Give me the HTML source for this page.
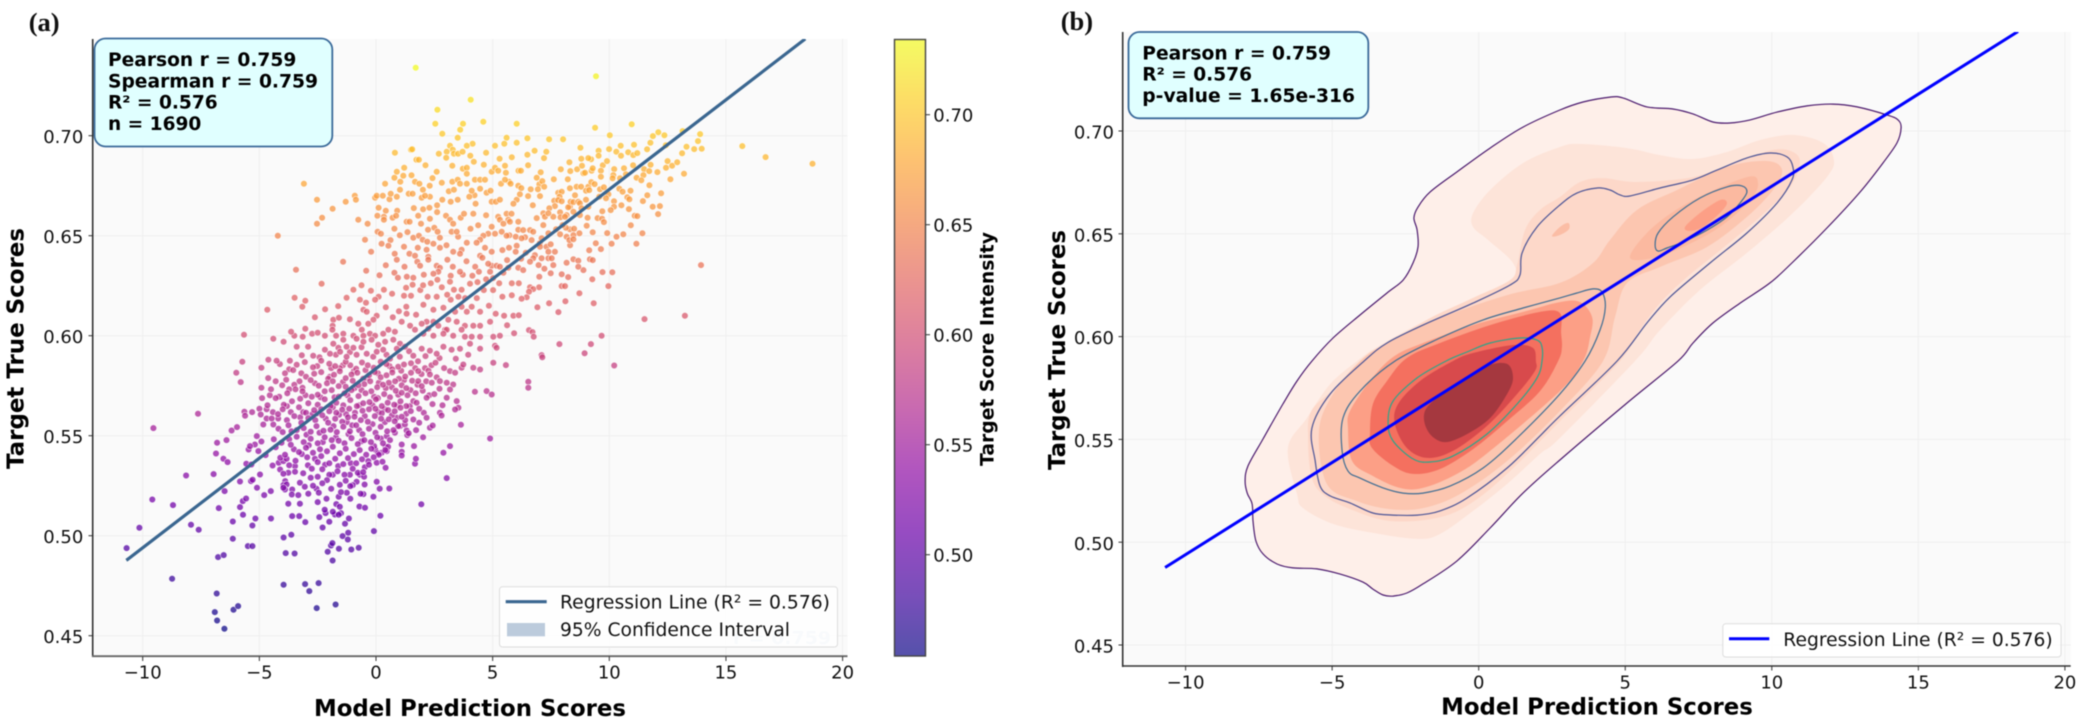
<!DOCTYPE html>
<html lang="en">
<head>
<meta charset="utf-8">
<title>Model prediction scores vs target true scores</title>
<style>
html,body{margin:0;padding:0;background:#fff;}
svg{display:block;font-family:"DejaVu Sans","Liberation Sans",sans-serif;filter:blur(0.4px);}
.tick{font-size:18px;fill:#111;}
.axt{font-weight:bold;fill:#000;}
.stat{font-weight:bold;font-size:18.2px;fill:#000;}
.leg{font-size:18.3px;fill:#111;}
.pl{font-family:"Liberation Serif",serif;font-weight:bold;font-size:26.5px;fill:#111;}
</style>
</head>
<body>
<svg id="chart" xmlns="http://www.w3.org/2000/svg" width="2082" height="722" viewBox="0 0 2082 722">
<defs>
<clipPath id="clipA"><rect x="93" y="39" width="755" height="618"/></clipPath>
<clipPath id="clipB"><rect x="1123" y="32" width="948" height="634"/></clipPath>
<linearGradient id="plasmaGrad" x1="0" y1="1" x2="0" y2="0"></linearGradient>
</defs>
<rect x="0" y="0" width="2082" height="722" fill="#ffffff"/>
<text class="pl" x="28.7" y="31">(a)</text>
<text class="pl" x="1060.7" y="30">(b)</text>

<g id="panelA">
<rect x="93" y="39" width="754.5" height="617.5" fill="#fafafa"/>
<g id="gridA"></g>
<text x="733" y="644" font-weight="bold" font-size="18" fill="#d9e3ec" textLength="98" lengthAdjust="spacingAndGlyphs">r = 0.759</text>
<g id="dotsA"></g>
<g id="regA" clip-path="url(#clipA)"></g>
<line x1="92.7" y1="39" x2="92.7" y2="657" stroke="#333" stroke-width="1.6"/>
<line x1="92" y1="656.2" x2="847.5" y2="656.2" stroke="#666" stroke-width="1.8"/>
<g id="ticksA"></g>
<text class="axt" font-size="23.5" text-anchor="middle" x="470" y="716" textLength="312" lengthAdjust="spacingAndGlyphs">Model Prediction Scores</text>
<text class="axt" font-size="23.5" text-anchor="middle" transform="translate(23.5,348.5) rotate(-90)" textLength="241" lengthAdjust="spacingAndGlyphs">Target True Scores</text>
<g>
<rect x="94.5" y="38.5" width="237.8" height="108" rx="11" ry="11" fill="#e0ffff" stroke="#3a6a9a" stroke-width="1.8"/>
<text class="stat" x="108" y="66" textLength="188.3" lengthAdjust="spacingAndGlyphs">Pearson r = 0.759</text>
<text class="stat" x="108" y="87.3" textLength="210" lengthAdjust="spacingAndGlyphs">Spearman r = 0.759</text>
<text class="stat" x="108" y="108.7" textLength="109.7" lengthAdjust="spacingAndGlyphs">R² = 0.576</text>
<text class="stat" x="108" y="130" textLength="93.3" lengthAdjust="spacingAndGlyphs">n = 1690</text>
</g>
<g>
<rect x="499.5" y="586.8" width="338" height="60.2" rx="3" ry="3" fill="#ffffff" fill-opacity="0.82" stroke="#dddddd" stroke-width="1"/>
<line x1="505.7" y1="601.7" x2="546.7" y2="601.7" stroke="#3a6690" stroke-width="3.2"/>
<text class="leg" x="560" y="608.3" textLength="270" lengthAdjust="spacingAndGlyphs">Regression Line (R² = 0.576)</text>
<rect x="507" y="623" width="38" height="13.3" fill="#bccbdc"/>
<text class="leg" x="560" y="636" textLength="230" lengthAdjust="spacingAndGlyphs">95% Confidence Interval</text>
</g>
</g>

<g id="colorbar">
<rect x="894.5" y="39.5" width="31" height="616.5" fill="url(#plasmaGrad)" fill-opacity="0.7" stroke="#444" stroke-width="1.4"/>
<g id="ticksC"></g>
<text class="axt" font-size="18.3" text-anchor="middle" transform="translate(993.3,349) rotate(-90)" textLength="234" lengthAdjust="spacingAndGlyphs">Target Score Intensity</text>
</g>

<g id="panelB">
<rect x="1123" y="32" width="947.7" height="634" fill="#fafafa"/>
<g id="gridB"></g>
<g id="kdeFills" clip-path="url(#clipB)"></g>
<g id="kdeLines" clip-path="url(#clipB)"></g>
<g id="regB" clip-path="url(#clipB)"></g>
<line x1="1122.7" y1="32" x2="1122.7" y2="667" stroke="#333" stroke-width="1.6"/>
<line x1="1122" y1="666" x2="2070.7" y2="666" stroke="#333" stroke-width="1.6"/>
<g id="ticksB"></g>
<text class="axt" font-size="23.5" text-anchor="middle" x="1597" y="714.3" textLength="311.7" lengthAdjust="spacingAndGlyphs">Model Prediction Scores</text>
<text class="axt" font-size="23.5" text-anchor="middle" transform="translate(1065,350) rotate(-90)" textLength="240" lengthAdjust="spacingAndGlyphs">Target True Scores</text>
<g>
<rect x="1128.5" y="32" width="239.8" height="86.3" rx="11" ry="11" fill="#e0ffff" stroke="#3a6a9a" stroke-width="1.8"/>
<text class="stat" x="1142.3" y="59.3" textLength="188.7" lengthAdjust="spacingAndGlyphs">Pearson r = 0.759</text>
<text class="stat" x="1142.3" y="80.7" textLength="109.7" lengthAdjust="spacingAndGlyphs">R² = 0.576</text>
<text class="stat" x="1142.3" y="102" textLength="212.7" lengthAdjust="spacingAndGlyphs">p-value = 1.65e-316</text>
</g>
<g>
<rect x="1722.8" y="623.8" width="338.2" height="33.2" rx="3" ry="3" fill="#ffffff" fill-opacity="0.85" stroke="#dddddd" stroke-width="1"/>
<line x1="1729" y1="638.7" x2="1769.3" y2="638.7" stroke="#0000ff" stroke-width="3"/>
<text class="leg" x="1783.3" y="646" textLength="269.4" lengthAdjust="spacingAndGlyphs">Regression Line (R² = 0.576)</text>
</g>
</g>
</svg>

<script>
/* ---------- shared tick data ---------- */
const xTickValues = [-10, -5, 0, 5, 10, 15, 20];
const xTickLabels = ["\u221210", "\u22125", "0", "5", "10", "15", "20"];
const yTickValues = [0.45, 0.50, 0.55, 0.60, 0.65, 0.70];
const yTickLabels = ["0.45", "0.50", "0.55", "0.60", "0.65", "0.70"];
const colorbarTickValues = [0.50, 0.55, 0.60, 0.65, 0.70];
const colorbarTickLabels = ["0.50", "0.55", "0.60", "0.65", "0.70"];
const colorRange = [0.454, 0.734];
const plasmaColors = ["#0d0887","#41049d","#6a00a8","#8f0da4","#b12a90","#cc4778","#e16462","#f1844b","#fca636","#fcce25","#f0f921"];

/* ---------- regression ---------- */
const regressionX = [-10.7, 18.4];
const regressionY = [0.4877, 0.7484];
const ciLowerY = [0.4870, 0.7477];
const ciUpperY = [0.4884, 0.7491];

/* ---------- scatter samples [prediction, true score] ---------- */
const highScorePoints = [
[1.7,.734],[4.06,.718],[2.63,.713],[2.54,.706],[3.73,.706],[3.61,.703],[4.6,.707],[6.03,.706],[2.84,.701],[3.5,.699],[5.6,.699],[5.5,.696],[6.03,.6965],[5.1,.695],[3.17,.695],[4.14,.696],[3.89,.695],[1.5,.693],[1.55,.6932],[.81,.6915],[3.29,.693],[3.03,.692],[2.69,.691],[3.34,.691],[3.52,.691],[3.71,.692],[4.04,.690],[3.01,.689],[1.73,.688],[1.84,.688],[4.19,.687],[5.3,.6885],
[-3.09,.676],[-2.53,.668],[-1.86,.6635],[-1.3,.667],[-.91,.670],[-.86,.668],[-2.31,.659],[-2.53,.656],[-.76,.658],[-4.21,.65],[-.36,.656],[-.47,.648],[-.21,.642],[-1.41,.637],[.24,.646],[.53,.645],[.07,.652],[.21,.651],[.11,.664],[.06,.660],[-.04,.669],[.03,.670],[.29,.670],[.63,.671],[.89,.6695],[1.03,.673],[.39,.676],[.79,.679],[.89,.682],[1.17,.680],[1.21,.684],[1.04,.677],[1.4,.671],[1.57,.671],[1.67,.677],[1.86,.676],[2.01,.673],[2.3,.675],[1.96,.669],[2.31,.6695],[2.1,.670],[2.84,.668],[2.29,.664],[1.81,.660],[2.31,.6585],[1.93,.656],[.91,.6625],[.71,.659],[.86,.660],[.34,.6595],[.34,.658],[.79,.6535],[1.31,.657],[1.44,.657],[1.6,.649],[1.84,.650],[2.23,.653],[2.5,.654],[2.64,.652],[2.74,.649],[2.0,.648],[2.2,.647],[2.46,.646],[1.2,.6445],[1.79,.644],[2.17,.643],[2.74,.644],[.8,.641],[1.43,.641],[.89,.638],[1.67,.640],[1.77,.637],[2.24,.6395],[1.89,.635],[2.24,.638],
[3.0,.660],[3.17,.658],[3.31,.656],[3.24,.652],[3.46,.652],[3.63,.659],[3.77,.661],[4.17,.661],[3.2,.667],[3.5,.668],[3.34,.673],[3.27,.677],[3.5,.678],[3.6,.676],[3.89,.676],[4.0,.6695],[4.1,.6725],[4.24,.678],[4.46,.678],[4.67,.678],[4.46,.6735],[4.74,.6715],[4.91,.6725],[4.27,.666],[3.89,.684],[3.89,.681],[3.27,.685],[2.6,.682],[4.96,.682],[5.1,.684],[5.24,.6825],[5.53,.685],[5.57,.6815],[5.7,.677],[5.36,.676],[5.53,.678],[5.77,.676],[6.1,.675],[6.11,.6825],[6.03,.668],[5.89,.666],[4.96,.667],[5.14,.667],[5.31,.668],[5.6,.661],[5.81,.661],[5.24,.6595],[5.31,.658],[5.67,.658],[5.46,.656],[5.74,.657],[4.96,.6545],[6.1,.657],[6.1,.653],[5.39,.652],[5.1,.651],[4.81,.651],[4.6,.650],[5.6,.650],[5.99,.6495],[4.46,.648],[4.31,.6465],[3.89,.6465],[6.03,.645],[5.7,.644],[5.99,.642],[4.67,.644],[4.96,.642],[4.46,.640],[4.56,.639],[4.96,.635],[5.17,.635],[4.81,.636],[5.31,.6345],[6.1,.634],[5.67,.634],[5.46,.6315],[4.41,.632],[4.13,.630],[3.6,.632],[3.2,.630],[3.29,.6345],[3.06,.638],[3.31,.642],[3.67,.643],[3.6,.641],[2.6,.635],[2.74,.634],[2.67,.632],[2.46,.631],[2.63,.628],[3.17,.627],[4.89,.632]
];
const rightSidePoints = [
[9.43,.7297],[9.39,.704],[10.96,.7057],[6.49,.6987],[12.1,.7017],[11.87,.6998],[12.36,.7002],[13.14,.7023],[13.89,.7008],[13.8,.6973],[13.31,.6945],[13.64,.6933],[13.96,.6935],[11.76,.6965],[15.7,.6948],[16.7,.6893],[18.71,.686],[8.76,.694],[10.49,.695],[11.06,.6955],[9.99,.6933],[9.54,.6925],[9.54,.690],[10.3,.692],[10.5,.690],[10.81,.6917],[11.03,.6903],[11.2,.6913],[8.8,.6885],[9.1,.6888],[8.83,.685],[8.29,.6867],[9.9,.6873],[10.21,.6833],[10.63,.6837],[8.33,.6823],[8.89,.6812],[8.96,.6815],[9.24,.6825],[9.29,.6837],[9.64,.6825],[9.64,.6795],[10.17,.6803],[10.14,.6787],[10.46,.6787],[10.71,.6807],[11.49,.6833],[11.46,.6803],[11.71,.6823],[11.77,.6855],[12.06,.6818],[11.17,.679],[11.37,.6777],[12.43,.684],[12.5,.6873],[12.69,.685],[12.91,.6867],[13.2,.681],[6.8,.6925],[7.3,.692],[7.2,.6888],[6.49,.6905],[6.21,.6825],[7.06,.6817],[6.89,.679],[7.0,.6757],[7.13,.6773],[7.21,.6745],[6.94,.6732],[6.63,.6732],[7.03,.6698],[6.23,.6738],[6.17,.6707],[8.31,.6737],[8.6,.6745],[8.79,.6745],[9.1,.6745],[9.23,.6768],[9.37,.6758],[9.0,.6725],[9.14,.6728],[9.6,.6732],[9.77,.6742],[9.96,.6707],[9.86,.6687],[9.57,.6695],[10.43,.6735],[10.57,.672],[10.91,.6725],[10.77,.6692],[10.86,.6682],[10.2,.6672],[10.2,.6645],[10.06,.6628],[9.7,.6622],[10.84,.6633],[11.44,.6673],[11.63,.6702],[11.86,.6645],[12.17,.6648],[12.09,.6608],[11.09,.66],[11.2,.6598],[9.5,.6588],[9.69,.6585],[9.77,.6568],[9.03,.655],[9.29,.6517],[9.91,.6513],[10.31,.6495],[10.6,.6507],[10.1,.646],[11.16,.646],[9.14,.6427],[9.64,.6433],[13.93,.6353],[10.13,.6317],[9.71,.6318],[9.27,.6282],[9.96,.6248],[9.33,.6162],[11.51,.6083],[13.24,.61],[9.67,.6],[9.21,.5958],[8.94,.5912],[7.86,.5958],[7.1,.5903],[7.13,.5892],[6.56,.6028],[6.71,.6018],[6.76,.5995],[10.21,.5851],[6.53,.577],[6.53,.574],
[7.81,.6715],[7.96,.672],[7.87,.6695],[7.64,.6675],[7.81,.6678],[7.96,.6672],[7.67,.6648],[7.43,.6637],[7.6,.6595],[7.89,.6617],[7.91,.6592],[8.17,.6603],[8.31,.6645],[8.24,.6642],[8.34,.667],[8.53,.6702],[8.46,.6668],[8.67,.667],[8.74,.6662],[8.81,.6637],[9.0,.668],[9.1,.6645],[8.74,.6603],[8.46,.662],[8.1,.6595],[9.07,.659],[8.31,.6532],[8.49,.6535],[8.14,.654],[8.0,.6553],[7.89,.6507],[8.17,.6495],[8.46,.6503],[8.29,.6478],[8.46,.6482],
[6.31,.6528],[6.6,.6528],[6.74,.652],[6.67,.6478],[6.39,.6492],[6.24,.6487],[6.89,.6588],[7.17,.6612],[7.24,.6595],[7.39,.6612],[7.17,.6553],[7.39,.6512],[7.1,.6487],[7.31,.6445],[7.03,.6445],[6.81,.6403],[6.74,.6387],[7.39,.642],[7.49,.6457],[7.1,.6387],[6.6,.637],[6.97,.6353],[7.39,.6387],[7.67,.642],[7.53,.6387],[7.6,.6353],[7.49,.6312],[7.96,.6307],[8.24,.6293],[6.31,.6328],[7.0,.6295],[7.96,.6248],[8.1,.6248],[6.99,.6242],[6.6,.6242],[6.74,.6233],[6.56,.622],[6.46,.6192],[6.24,.6185],[8.46,.6382],[8.67,.6375],[9.17,.6382],[9.29,.6378],[8.89,.6328],[8.67,.6345],[8.17,.6365]
];
const midScorePoints = [
[-3.43,.633],[-2.33,.626],[-.97,.623],[-1.26,.619],[-3.49,.619],[-3.03,.6175],[-3.16,.6145],[-4.66,.613],[-.69,.618],[-.43,.6165],[-.54,.613],[-.4,.612],[.03,.61],[-.11,.608],[.11,.6195],[-.04,.618],[.34,.623],[.69,.621],[1.2,.62],[1.5,.62],[1.29,.624],[1.57,.6255],[1.6,.629],[.79,.6315],[.94,.629],[2.21,.6195],[2.6,.6195],[3.2,.618],[3.53,.6195],[3.34,.623],[3.67,.623],[4.03,.626],[2.03,.6155],[1.3,.6145],[1.31,.611],[2.46,.613],[2.89,.614],[3.67,.6145],[4.1,.6145],[3.39,.612],[3.89,.612],[4.46,.612],[4.84,.615],[5.13,.611],[5.49,.610],[4.89,.607],[4.46,.605],[5.89,.610],[3.1,.608],[3.46,.607],[3.81,.605],[4.17,.605],[2.17,.607],[2.46,.607],[2.67,.605],[2.96,.603],[3.03,.603],[3.67,.603],[-1.83,.608],[-1.59,.609],[-1.86,.605],[-1.87,.603],[-.76,.606],[-.33,.606],[-3.03,.6035],[-3.5,.600],[-2.74,.601],[-2.5,.6015],[-2.19,.600],[-1.71,.600],[-1.4,.601],[-3.64,.602],[-3.14,.5995],[-5.66,.6005],[-4.4,.5985],[-3.96,.597],
[-.61,.603],[-.54,.600],[-.26,.601],[-.04,.600],[.31,.601],[.53,.603],[.81,.602],[1.1,.607],[1.46,.605],[1.67,.603],[1.96,.606],[2.24,.6035],[2.03,.601],[2.46,.600],[2.89,.601],[3.31,.600],[3.81,.5995],[4.1,.5995],[4.46,.5995],[5.03,.5995],[5.31,.600],[-.97,.600],[-.83,.5985],[-1.4,.598],[-1.83,.596],[-1.26,.5945],[-1.61,.594],[-.97,.594],[-.54,.597],[-.19,.598],[.1,.5955],[.39,.597],[.74,.598],[1.03,.596],[-3.4,.5945],[-2.91,.5945],[-2.69,.59],[-2.19,.593],[-1.97,.591],[-1.54,.592],[-1.26,.5895],[-.83,.5905],[-.4,.591],[.03,.592],[.31,.593],[.6,.5885],[.89,.5935],[1.24,.5945],[1.6,.590],[1.96,.5935],[2.31,.5925],[2.6,.591],[2.89,.5945],[3.24,.593],[3.6,.5935],[4.03,.596],[4.46,.5935],[5.1,.595],[5.17,.594],[-5.73,.587],[-4.61,.588],[-4.26,.5875],[-3.69,.5875],
[1.6,.5673],[1.74,.5665],[1.49,.5623],[1.81,.5773],[1.96,.5748],[2.17,.569],[2.39,.5765],[2.74,.5773],[3.03,.5765],[3.31,.5756],[3.46,.5673],[3.53,.564],[3.39,.5631],[3.17,.5731],[3.03,.569],[4.24,.572],[4.74,.5723],[4.96,.5706],[3.67,.584],[4.17,.584],[4.46,.5831],[3.74,.5856],[5.03,.5865],[5.57,.5853],[3.17,.5823],[3.39,.5815],[2.31,.5806],[1.81,.5823],[2.31,.554],[2.43,.5551],[2.17,.559],[2.74,.5615],[2.81,.5601],[3.64,.5555],[4.89,.5486],[2.89,.5415],[3.17,.5448],[3.03,.5288],[1.94,.5157]
];
const denseCorePoints = [
[-3.4,.5855],[-2.7,.5842],[-2,.586],[-1.55,.5838],[-1.1,.5852],[-.6,.5866],[-.1,.584],[.45,.5858],[.95,.5845],[1.5,.5862],[2.1,.5838],[-3.05,.5868],[-2.35,.5875],[-1.75,.5848],[-1.3,.587],[-.85,.5835],[-.35,.5852],[.2,.587],[.7,.5832],[1.2,.5856],[1.8,.5872],[2.55,.5865],
[-3.9,.5812],[-3,.5795],[-2.35,.5818],[-1.8,.5805],[-1.3,.5788],[-.8,.5815],[-.3,.5802],[.2,.5792],[.7,.5816],[1.25,.5796],[1.95,.5808],[2.6,.5792],[-3.55,.5828],[-2.65,.581],[-2.05,.5785],[-1.55,.5822],[-1.05,.5806],[-.55,.5785],[-.05,.5818],[.45,.5802],[.98,.5785],[1.5,.5815],[2.25,.5825],
[-4.3,.5772],[-3.5,.5755],[-2.8,.5778],[-2.1,.5762],[-1.6,.5748],[-1,.5775],[-.5,.5758],[.05,.5742],[.55,.5765],[1.1,.5752],[1.55,.5775],[-3.85,.578],[-3.15,.574],[-2.45,.575],[-1.85,.5772],[-1.3,.5745],[-.75,.5752],[-.25,.5772],[.3,.5755],[.82,.5772],[1.3,.5738],
[-4.5,.5732],[-3.8,.5712],[-3.15,.5722],[-2.5,.5705],[-1.9,.5728],[-1.35,.5712],[-.75,.5698],[-.2,.5722],[.35,.5708],[.85,.5725],[1.35,.5702],[2,.5725],[2.5,.5708],[-4.15,.5695],[-3.45,.5732],[-2.75,.5695],[-2.2,.5722],[-1.6,.5695],[-1.05,.5728],[-.45,.5712],[.08,.5688],[.6,.5692],[1.1,.5715],[1.7,.5712],
[-4.3,.5688],[-3.6,.5672],[-2.9,.5662],[-2.2,.5682],[-1.7,.5665],[-1.1,.5678],[-.55,.5662],[0,.5682],[.5,.5665],[1.05,.5672],[-3.95,.5655],[-3.25,.5685],[-2.5,.5655],[-1.95,.5648],[-1.4,.5652],[-.82,.5648],[-.28,.5668],[.25,.5648],[.78,.5655],[1.3,.5648],
[-4.65,.5652],[-4,.5632],[-3.3,.5642],[-2.65,.5628],[-2,.5622],[-1.45,.563],[-.9,.5615],[-.3,.5632],[.25,.5612],[.8,.5622],[1.3,.561],[1.85,.5635],[-3.65,.5618],[-3,.5615],[-2.35,.5632],[-1.7,.5615],[-1.15,.5635],[-.58,.5625],[-.02,.5635],[.52,.5628],[1.05,.564],
[-4.2,.5608],[-3.5,.5598],[-2.9,.5588],[-2.3,.5602],[-1.75,.5585],[-1.2,.5592],[-.65,.5578],[-.05,.5598],[.55,.5582],[1.1,.5595],[-3.2,.5565],[-2.6,.5578],[-2.05,.5565],[-1.45,.557],[-.92,.5595],[-.35,.557],[.22,.5585],[.8,.5572],[-3.82,.5578],
[-3.75,.5552],[-3.1,.5538],[-2.55,.5548],[-1.95,.553],[-1.4,.5545],[-.85,.5552],[-.3,.5535],[.2,.5545],[.75,.5528],[1.4,.5512],[-3.4,.5528],[-2.8,.552],[-2.25,.5525],[-1.68,.5518],[-1.12,.5522],[-.58,.5508],[-.02,.5515],[.48,.5522],
[-4,.5518],[-3.4,.5495],[-2.8,.5485],[-2.2,.5492],[-1.6,.5475],[-1.05,.5488],[-.5,.5478],[.05,.5492],[.6,.5478],[-3.72,.5482],[-3.1,.5468],[-2.5,.5462],[-1.9,.5478],[-1.35,.5462],[-.78,.5458],[-.22,.5468],[.3,.5462],
[-3.65,.5455],[-3,.544],[-2.4,.5432],[-1.85,.5445],[-1.3,.5435],[-.7,.5428],[-.2,.5435],[.4,.5428],[-4.3,.5442],[-3.3,.5418],[-2.7,.5415],[-2.1,.5422],[-1.55,.5412],[-.95,.5408],[-.42,.5405],[.12,.5405],
[-3.9,.5405],[-2.95,.5392],[-2.35,.5398],[-1.75,.5385],[-1.2,.5388],[-.6,.5382],[-.1,.5392],[-3.45,.5375],[-2.5,.5368],[-2,.5362],[-1.4,.5358],[-.85,.5362],[-.3,.5355],[.28,.537],
[-2.75,.5335],[-1.65,.5322],[-1,.5335],[-.55,.5318],[-2.3,.5332],[-2,.5305],[-1.35,.5305],[-2.8,.529],[-2.1,.5278],[-1.3,.5275],[-2.7,.525],[-2.3,.5262],[-1.1,.5248],[-1.55,.5255],[-2.9,.521],[-2.45,.5215],[-1.6,.5195],[-1.5,.5218],[-2.5,.5168],[-1.7,.5158],[-1.55,.5145],[-1.1,.5185],[-2.2,.513],[-1.85,.512],[-1.6,.5105]
];
const lowScorePoints = [
[-7.63,.561],[-9.54,.5538],[-5.99,.5815],[-5.8,.5768],[-4.91,.584],[-4.91,.574],[-5.64,.562],[-5.31,.5618],[-5.61,.56],[-5.0,.5635],[-4.69,.5632],[-4.94,.5606],[-4.69,.5586],[-4.83,.5556],[-4.4,.5556],[-4.19,.5586],[-4.47,.5586],[-6.19,.5526],[-5.96,.5543],[-6.81,.5465],[-6.41,.5478],[-6.86,.5411],[-6.54,.5385],[-6.36,.5368],[-6.96,.5308],[-8.14,.5301],[-9.59,.5181],[-8.7,.5153],[-10.14,.504],[-10.69,.4938],[-7.93,.5055],[-7.6,.503],[-6.49,.5223],[-6.74,.5138],[-8.74,.4785],[-6.83,.4711],[-6.91,.4618],[-6.81,.4576],[-6.5,.4535],[-6.11,.463],[-5.91,.4648],[-6.77,.4893],[-6.53,.4903],[-6.14,.4985],[-6.14,.5071],[-5.49,.4948],[-5.3,.4948],[-5.3,.5051],[-5.17,.5086],[-4.5,.5086],[-5.7,.5105],[-5.83,.5143],[-5.71,.5173],[-5.57,.5186],[-5.1,.524],[-4.79,.5203],[-4.51,.5223],[-5.83,.5271],[-5.36,.5273],[-5.29,.528],[-4.97,.5306],[-5.46,.5431],[-5.19,.5456],[-5.11,.5498],[-4.91,.5471],[-5.4,.5448],[-5.04,.5423],[-5.56,.536],[-5.34,.5356],[-4.73,.5403],[-4.43,.5351],[-4.17,.5365],[-3.97,.5373],[-4.1,.539],[-3.83,.5385],[-3.47,.5348],[-3.47,.532],[-3.76,.5315],[-4.11,.5331],[-3.97,.531],[-3.89,.5273],[-3.97,.5253],[-3.83,.5256],[-3.9,.5231],[-3.59,.5231],[-3.26,.5265],[-3.61,.5206],[-3.33,.5203],[-3.76,.516],[-3.26,.516],[-3.97,.524],[-3.59,.5098],[-3.29,.5098],[-3.03,.5068],[-3.96,.4991],[-3.63,.5005],[-3.87,.4913],[-3.49,.4911],[-3.96,.4755],[-3.04,.4758],[-2.86,.4723],[-2.46,.4763],[-2.54,.4638],[-1.73,.4656],[-2.07,.492],[-1.93,.4951],[-1.87,.4963],[-1.59,.4935],[-1.43,.4998],[-1.19,.5015],[-1.21,.4981],[-1.06,.4931],[-.74,.494],[-1.86,.4876],[-2.29,.5041],[-2.0,.507],[-2.43,.5093],[-2.16,.5113],[-1.76,.5106],[-1.5,.5113],[-1.33,.506],[-1.16,.5086],[-.09,.5023],[.19,.51],[-.11,.5195],[.16,.5235],[.57,.5236],[-.71,.5146],[-.47,.514],[-.54,.5208],[-.66,.521],[-.83,.527],[-.69,.5305],[-.51,.5295],[-.49,.5256],[-1.0,.5253],[.03,.527],[.41,.534],[.03,.5365],[-.33,.5373],[1.67,.536],[1.71,.5385],[1.63,.5448],[1.1,.5456],[1.1,.542],[1.1,.5401],[.41,.5443],[.46,.5423],[.24,.5415],[-.04,.5431],[.21,.5486],[.46,.5498],[.81,.5515],[1.34,.5503],[1.03,.5548],[1.24,.5556],[1.31,.5526],[.89,.559],[1.6,.5581]
];
const interstitialCorePoints = [
[-4.05,.5465],[-3.52,.5432],[-2.88,.5452],[-2.28,.5468],[-1.72,.5492],[-1.18,.5508],[-.62,.5472],[-.08,.5448],[.52,.5445],[-3.18,.5408],[-2.62,.5385],[-2.18,.5355],[-1.62,.5348],[-1.08,.5362],[-.48,.5342],[.08,.5412],[-3.72,.5352],[-2.92,.5352],[-2.5,.5295],[-1.85,.5305],[-1.12,.5305],[-.78,.5315],[-2.55,.5235],[-1.92,.5235],[-1.25,.5215],[-2.12,.5185],[-3.05,.5245],[-3.12,.5312],
[-3.62,.5522],[-2.98,.5505],[-2.42,.5515],[-1.82,.5548],[-1.25,.5568],[-.72,.5528],[-.15,.5558],[.38,.5568],[.95,.5548],[-4.18,.5535],[-4.38,.5482],[-3.25,.5592],[-2.72,.5608],[-2.15,.5585],[-1.58,.5605],[-1.02,.5552],[-.48,.5598],[.1,.5618],[.68,.5602],[1.25,.5578],[1.72,.5528],[2.02,.5492],[1.85,.5565],
[-4.42,.5618],[-3.82,.5648],[-3.12,.5618],[-2.52,.5612],[-1.85,.5642],[-1.28,.5608],[-.72,.5652],[-.15,.5652],[.38,.5632],[.92,.5652],[1.45,.5648],[2.05,.5615],[2.42,.5658],[-4.88,.5688],[-4.55,.5702],[-3.72,.5732],[-3.02,.5702],[-2.38,.5692],[-1.78,.5692],[-1.22,.5702],[-.62,.5728],[-.08,.5695],[.42,.5738],[.95,.5705],[1.48,.5728],[2.28,.5702],[2.85,.5652],
[-4.02,.5752],[-3.28,.5772],[-2.62,.5762],[-1.98,.5795],[-1.42,.5768],[-.92,.5738],[-.38,.5788],[.12,.5765],[.68,.5742],[1.2,.5778],[1.78,.5755],[2.15,.5772],[2.72,.5735],[-4.62,.5788],[-3.72,.5832],[-3.2,.5812],[-2.52,.5848],[-1.92,.5838],[-1.42,.5852],[-.95,.5822],[-.45,.5828],[.08,.5812],[.58,.5848],[1.08,.5825],[1.68,.5838],[2.38,.5852],[2.92,.5838],[-4.12,.5858],[-3.18,.5902],[-2.42,.5892],[-1.72,.5905],[-1.12,.5918],[-.62,.5942],[-.12,.5895],[.45,.5905],[1.02,.5895],[1.42,.5922],[2.12,.5898],[2.72,.5888],[3.42,.5885],[3.95,.5905]
];
const interstitialUpperPoints = [
[-2.62,.6092],[-2.18,.6132],[-1.62,.6148],[-1.12,.6082],[-.62,.6252],[-.22,.6225],[.42,.6142],[.72,.6092],[.98,.6122],[1.72,.6105],[1.9,.6228],[2.35,.6262],[2.82,.6242],[3.05,.6205],[3.82,.6188],[4.32,.6188],[4.62,.6228],[5.02,.6228],[5.42,.6195],[5.82,.6202],[4.25,.6345],[3.88,.6372],[4.72,.6282],[5.28,.6262],[5.82,.6262],[.42,.6352],[.15,.6302],[-.42,.6325],[1.22,.6345],[1.32,.6295],[2.05,.6305],[2.02,.6252],[3.72,.6305],[4.35,.6268],
[.62,.6478],[1.02,.6502],[1.35,.6518],[.42,.6625],[.58,.6682],[1.62,.6638],[2.02,.6632],[2.62,.6618],[2.62,.6652],[3.02,.6452],[3.52,.6495],[4.05,.6535],[4.38,.6552],[4.72,.6602],[4.22,.6702],[2.82,.6765],[2.42,.6788],[2.12,.6852],[1.52,.6802],[3.12,.6722],[3.72,.6835],[4.62,.6855],[4.72,.6915],[5.82,.6892],[6.52,.6852],[6.72,.6652],[6.52,.6698],[5.42,.6428],[5.72,.6502],[6.42,.6415],[6.22,.6385],[5.62,.6378],[5.02,.6288],[6.12,.6262],[6.92,.6142],[7.42,.6162],[7.82,.6118],[5.92,.6012],[6.12,.6102],[5.62,.6052],[8.12,.6172],
[8.72,.6212],[8.32,.6452],[8.72,.6512],[7.22,.6335],[7.02,.6462],[9.42,.6462],[7.72,.6532],[7.62,.6782],[7.92,.6832],[8.22,.6782],[8.62,.6832],[9.22,.6882],[9.72,.6852],[10.52,.6652],[10.92,.6552],[11.42,.6512],[11.72,.6752],[12.22,.6712],[12.62,.6782],[11.02,.6852],[11.62,.6932],[12.42,.6952],[13.12,.6912],[10.02,.7002],[8.02,.6982],[7.42,.6982]
];

/* ---------- density contour vertices [prediction, true score] ---------- */
const kdeLevel1 = [[-5.69,.5881],[-4.97,.5993],[-4.05,.6105],[-3.13,.6212],[-2.58,.6275],[-2.24,.6358],[-2.07,.6436],[-2.10,.6518],[-2.21,.6577],[-2.07,.6630],[-1.66,.6703],[-.74,.6801],[.39,.6917],[1.51,.7019],[2.77,.7102],[3.56,.7141],[4.48,.7165],[4.92,.7161],[5.74,.7117],[6.63,.7107],[7.31,.7083],[7.99,.7044],[8.57,.7039],[9.26,.7054],[10.18,.7092],[11.2,.7122],[12.09,.7131],[12.91,.7117],[13.93,.7078],[14.31,.7054],[14.41,.7015],[14.27,.6942],[13.79,.6844],[13.01,.6703],[11.88,.6528],[10.72,.6363],[9.94,.6261],[8.92,.6163],[7.99,.6066],[7.31,.5969],[6.80,.5881],[5.06,.5677],[2.77,.5400],[1.51,.5239],[.39,.5069],[-.74,.4909],[-1.90,.4797],[-2.45,.4753],[-2.92,.4738],[-3.26,.4743],[-3.61,.4772],[-3.95,.4806],[-4.73,.4845],[-5.52,.4870],[-6.34,.4875],[-6.88,.4894],[-7.36,.4943],[-7.60,.5006],[-7.70,.5103],[-7.73,.5186],[-7.90,.5239],[-7.97,.5298],[-7.87,.5371],[-7.36,.5502],[-6.68,.5672],[-6.20,.5784]];
const kdeLevel2 = [[-6.51,.5458],[-6.20,.5234],[-5.99,.5166],[-4.97,.5089],[-3.61,.5045],[-2.10,.5016],[-1.32,.5040],[-.19,.5152],[.97,.5283],[2.09,.5429],[2.77,.5507],[5.33,.5881],[6.19,.6032],[7.55,.6227],[9.15,.6407],[10.72,.6601],[11.88,.6776],[12.12,.6859],[11.75,.6942],[10.72,.6981],[9.60,.6956],[8.47,.6898],[7.31,.6864],[6.19,.6883],[5.06,.6917],[3.46,.6937],[2.77,.6922],[1.51,.6844],[.39,.6713],[-.19,.6601],[-.19,.6533],[.32,.6470],[1.17,.6358],[1.14,.6275],[-.19,.6168],[-1.90,.6071],[-3.47,.5949],[-4.15,.5881],[-5.07,.5769],[-5.86,.5604]];
const kdeLevel3 = [[2.77,.6679],[3.46,.6752],[4.24,.6771],[5.40,.6752],[7.31,.6776],[8.68,.6844],[10.04,.6908],[10.72,.6898],[10.96,.6844],[10.62,.6728],[9.60,.6582],[8.13,.6407],[7.11,.6290],[6.19,.6163],[5.50,.6032],[4.82,.5881],[2.77,.5589],[.97,.5332],[-.30,.5186],[-1.42,.5118],[-3.03,.5103],[-4.39,.5161],[-5.25,.5225],[-5.69,.5312],[-5.82,.5497],[-5.69,.5643],[-4.73,.5765],[-3.71,.5901],[-1.90,.6071],[-.19,.6188],[1.07,.6275],[1.31,.6348],[1.58,.6518],[2.09,.6616]];
const kdeLevel4 = [[-5.45,.5541],[-5.18,.5283],[-4.15,.5200],[-3.03,.5161],[-1.90,.5166],[-.64,.5234],[.97,.5395],[2.77,.5638],[4.24,.5881],[4.65,.6095],[5.06,.6261],[6.19,.6339],[7.79,.6436],[9.15,.6582],[10.04,.6713],[10.35,.6810],[9.84,.6854],[8.47,.6825],[6.77,.6713],[5.40,.6616],[4.48,.6470],[3.90,.6358],[2.77,.6261],[.97,.6202],[-1.32,.6090],[-3.13,.5969],[-4.05,.5881],[-4.97,.5721]];
const kdeLevel4Upper = [[5.16,.6387],[5.95,.6533],[7.31,.6664],[9.15,.6776],[9.53,.6747],[9.26,.6664],[8.23,.6533],[6.97,.6436],[5.95,.6382]];
const kdeLevel4Blob = [[2.50,.6489],[2.77,.6533],[3.05,.6553],[3.08,.6523],[2.77,.6494]];
const kdeLevel5 = [[-4.46,.5555],[-4.32,.5395],[-3.61,.5322],[-2.69,.5264],[-1.90,.5264],[-.74,.5332],[.39,.5444],[2.77,.5735],[3.56,.5881],[3.80,.5998],[3.87,.6095],[3.46,.6168],[2.77,.6168],[1.51,.6120],[-.19,.6056],[-1.90,.5969],[-2.92,.5901],[-3.71,.5784],[-4.39,.5638]];
const kdeLevel5Upper = [[7.04,.6533],[7.55,.6601],[8.23,.6664],[8.47,.6650],[8.23,.6601],[7.65,.6533],[7.21,.6514]];
const kdeLevel6 = [[-3.71,.5531],[-3.64,.5458],[-2.92,.5371],[-2.24,.5332],[-1.32,.5356],[-.19,.5453],[.97,.5589],[2.09,.5735],[2.71,.5881],[2.84,.5949],[2.81,.6018],[2.77,.6115],[2.09,.6120],[.39,.6056],[-1.32,.5969],[-2.45,.5896],[-3.13,.5784],[-3.61,.5672]];
const kdeLevel7 = [[-.88,.5881],[-2.00,.5784],[-2.75,.5672],[-2.86,.5575],[-2.45,.5458],[-1.76,.5410],[-.88,.5444],[.28,.5565],[1.31,.5721],[1.92,.5833],[1.95,.5881],[1.85,.5945],[1.17,.5959],[-.19,.5920]];
const kdeLevel8 = [[.28,.5857],[-.74,.5769],[-1.66,.5672],[-1.87,.5604],[-1.66,.5526],[-1.15,.5487],[-.40,.5526],[.39,.5604],[.97,.5721],[1.17,.5799],[.97,.5867]];
const contourMiddle = [[-3.91,.5881],[-5.07,.5721],[-5.69,.5555],[-5.58,.5395],[-5.41,.5273],[-5.07,.5225],[-4.39,.5191],[-3.61,.5142],[-2.92,.5132],[-2.10,.5132],[-1.32,.5152],[-.40,.5215],[.97,.5361],[2.09,.5517],[2.77,.5614],[4.72,.5881],[5.74,.6066],[6.53,.6193],[7.89,.6358],[9.15,.6504],[10.18,.6650],[10.69,.6762],[10.72,.6825],[10.52,.6874],[9.94,.6893],[9.15,.6869],[8.13,.6810],[7.31,.6762],[6.19,.6723],[5.16,.6684],[4.82,.6689],[4.48,.6713],[4.04,.6723],[3.35,.6698],[2.77,.6640],[1.99,.6533],[1.48,.6407],[1.41,.6300],[1.07,.6251],[-.19,.6163],[-1.90,.6056],[-3.13,.5969]];
const contourInner = [[-2.86,.5881],[-4.05,.5735],[-4.63,.5604],[-4.66,.5444],[-4.46,.5346],[-4.05,.5312],[-3.26,.5264],[-2.58,.5239],[-1.90,.5239],[-.98,.5273],[.15,.5361],[1.31,.5507],[2.77,.5721],[3.63,.5881],[4.14,.6032],[4.32,.6144],[4.21,.6217],[3.90,.6232],[3.35,.6212],[2.77,.6188],[1.51,.6139],[.15,.6081],[-1.32,.5993]];
const contourInnerUpper = [[6.02,.6446],[6.12,.6504],[6.63,.6582],[7.55,.6674],[8.47,.6728],[8.98,.6733],[9.15,.6703],[8.92,.6650],[8.47,.6582],[7.79,.6518],[6.97,.6460],[6.42,.6431],[6.12,.6416]];
const contourCore = [[-1.12,.5881],[-2.10,.5799],[-2.92,.5687],[-3.09,.5580],[-2.92,.5492],[-2.24,.5405],[-1.66,.5390],[-.88,.5419],[.28,.5526],[1.31,.5672],[1.99,.5799],[2.16,.5881],[2.16,.5949],[1.99,.5983],[1.41,.5993],[.39,.5969],[-.40,.5925]];

/* ---------- axis functions ---------- */
const aX = v => 376 + 23.33 * v;
const aY = v => 135.7 + (0.70 - v) * 2000;
const bX = v => 1478.7 + 29.31 * v;
const bY = v => 131 + (0.70 - v) * 2056;
const cY = v => 114.7 + (0.70 - v) * 2200;

const NS = "http://www.w3.org/2000/svg";
function mk(tag, attrs, parent) {
  const el = document.createElementNS(NS, tag);
  for (const k in attrs) el.setAttribute(k, attrs[k]);
  parent.appendChild(el);
  return el;
}
function hexToRgb(h) {
  return [parseInt(h.slice(1,3),16), parseInt(h.slice(3,5),16), parseInt(h.slice(5,7),16)];
}
function plasma(value) {
  let t = (value - colorRange[0]) / (colorRange[1] - colorRange[0]);
  t = Math.max(0, Math.min(1, t)) * (plasmaColors.length - 1);
  const i = Math.min(Math.floor(t), plasmaColors.length - 2);
  const f = t - i;
  const a = hexToRgb(plasmaColors[i]), b = hexToRgb(plasmaColors[i + 1]);
  return "rgb(" + a.map((c, j) => Math.round(c + (b[j] - c) * f)).join(",") + ")";
}
function smoothPath(points, sx, sy) {
  const p = points.map(d => [sx(d[0]), sy(d[1])]);
  const n = p.length;
  let s = "M" + p[0][0].toFixed(1) + " " + p[0][1].toFixed(1);
  for (let i = 0; i < n; i++) {
    const p0 = p[(i - 1 + n) % n], p1 = p[i], p2 = p[(i + 1) % n], p3 = p[(i + 2) % n];
    const c1 = [p1[0] + (p2[0] - p0[0]) / 6, p1[1] + (p2[1] - p0[1]) / 6];
    const c2 = [p2[0] - (p3[0] - p1[0]) / 6, p2[1] - (p3[1] - p1[1]) / 6];
    s += "C" + c1[0].toFixed(1) + " " + c1[1].toFixed(1) + " " + c2[0].toFixed(1) + " " + c2[1].toFixed(1) + " " + p2[0].toFixed(1) + " " + p2[1].toFixed(1);
  }
  return s + "Z";
}

/* ---------- grids and ticks for both panels ---------- */
function drawAxes(gridId, ticksId, sx, sy, left, right, top, bottom, xBase, yRight, yShift) {
  const grid = document.getElementById(gridId);
  const ticks = document.getElementById(ticksId);
  xTickValues.forEach((v, i) => {
    const g = mk("line", {x1: sx(v), x2: sx(v), y1: top, y2: bottom, stroke: "#efefef", "stroke-width": 1}, grid);
    
    
    const t = mk("line", {x1: sx(v), x2: sx(v), y1: bottom, y2: bottom + 4.5, stroke: "#333", "stroke-width": 1}, ticks);
    
    
    const l = mk("text", {x: sx(v), y: xBase, "text-anchor": "middle", class: "tick"}, ticks);
    l.textContent = xTickLabels[i];
    
    
  });
  yTickValues.forEach((v, i) => {
    const g = mk("line", {x1: left, x2: right, y1: sy(v), y2: sy(v), stroke: "#efefef", "stroke-width": 1}, grid);
    
    
    const t = mk("line", {x1: left - 4.5, x2: left, y1: sy(v), y2: sy(v), stroke: "#333", "stroke-width": 1}, ticks);
    
    
    const l = mk("text", {x: yRight, y: sy(v) + yShift, "text-anchor": "end", class: "tick"}, ticks);
    l.textContent = yTickLabels[i];
    
    
  });
}
drawAxes("gridA", "ticksA", aX, aY, 93, 847.5, 39, 656.5, 678.3, 83.3, 7.2);
drawAxes("gridB", "ticksB", bX, bY, 1123, 2070.7, 32, 666, 688.7, 1114, 7.6);

/* ---------- colorbar ---------- */
const grad = document.getElementById("plasmaGrad");
plasmaColors.forEach((c, i) => {
  mk("stop", {offset: i / (plasmaColors.length - 1), "stop-color": c}, grad);
});
const ticksC = document.getElementById("ticksC");
colorbarTickValues.forEach((v, i) => {
  const t = mk("line", {x1: 925.5, x2: 930, y1: cY(v), y2: cY(v), stroke: "#333", "stroke-width": 1}, ticksC);
  
  
  const l = mk("text", {x: 933.3, y: cY(v) + 7, class: "tick"}, ticksC);
  l.textContent = colorbarTickLabels[i];
  
  
});

/* ---------- scatter points ---------- */
const dotsA = document.getElementById("dotsA");
[lowScorePoints, interstitialCorePoints, denseCorePoints, midScorePoints, interstitialUpperPoints, highScorePoints, rightSidePoints].forEach(series => {
  series.forEach(d => {
    const c = mk("circle", {cx: aX(d[0]).toFixed(1), cy: aY(d[1]).toFixed(1), r: 3.3, fill: plasma(d[1]), "fill-opacity": 0.74, stroke: "#ffffff", "stroke-width": 0.6, "stroke-opacity": 0.8}, dotsA);
    
    
  });
});

/* ---------- regression lines ---------- */
const regA = document.getElementById("regA");
const band = mk("polygon", {points: [aX(regressionX[0]) + "," + aY(ciLowerY[0]), aX(regressionX[1]) + "," + aY(ciLowerY[1]), aX(regressionX[1]) + "," + aY(ciUpperY[1]), aX(regressionX[0]) + "," + aY(ciUpperY[0])].join(" "), fill: "#2e5f8f", "fill-opacity": 0.3}, regA);


const lineA = mk("line", {x1: aX(regressionX[0]), y1: aY(regressionY[0]), x2: aX(regressionX[1]), y2: aY(regressionY[1]), stroke: "#3a6690", "stroke-width": 3.2}, regA);



/* ---------- density ---------- */
const kdeFills = document.getElementById("kdeFills");
const fillLayers = [
  [kdeLevel1, "#feefe9"], [kdeLevel2, "#fde4d9"], [kdeLevel3, "#fdd8c9"], [kdeLevel4, "#fcc6b0"],
  [kdeLevel4Upper, "#fbb9a0"], [kdeLevel4Blob, "#fbbda5"], [kdeLevel5, "#fc9f86"], [kdeLevel5Upper, "#fc9f86"],
  [kdeLevel6, "#f4705f"], [kdeLevel7, "#d84a4c"], [kdeLevel8, "#a5383f"]
];
fillLayers.forEach(layer => {
  const p = mk("path", {d: smoothPath(layer[0], bX, bY), fill: layer[1]}, kdeFills);
  
  
});
const kdeLines = document.getElementById("kdeLines");
const lineLayers = [
  [kdeLevel1, "#4b1a6e"], [contourMiddle, "#4c5496"], [contourInner, "#3f6d93"],
  [contourInnerUpper, "#3f6d93"], [contourCore, "#2da58a"]
];
lineLayers.forEach(layer => {
  const p = mk("path", {d: smoothPath(layer[0], bX, bY), fill: "none", stroke: layer[1], "stroke-width": 1.2}, kdeLines);
  
  
});
const regB = document.getElementById("regB");
const lineB = mk("line", {x1: bX(regressionX[0]), y1: bY(regressionY[0]), x2: bX(regressionX[1]), y2: bY(regressionY[1]), stroke: "#0000ff", "stroke-width": 3}, regB);


</script>
</body>
</html>
